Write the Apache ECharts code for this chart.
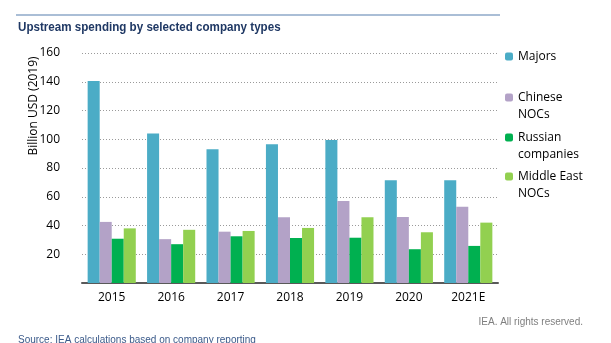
<!DOCTYPE html>
<html><head><meta charset="utf-8">
<script src="https://cdn.jsdelivr.net/npm/echarts@6/dist/echarts.min.js"></script>
<style>html,body{margin:0;padding:0;background:#fff}#c{width:611px;height:343px}</style>
</head><body><div id="c"></div>
<script>
const categories = ['2015','2016','2017','2018','2019','2020','2021E'];
const majors = [140.5, 104, 93, 96.5, 99.5, 71.5, 71.5];
const chineseNOCs = [42.5, 30.5, 35.7, 45.7, 57, 46, 53];
const russian = [30.8, 27, 32.5, 31.3, 31.5, 23.5, 25.8];
const middleEast = [38, 37, 36.2, 38.3, 45.7, 35.3, 42];
const yTicks = [0, 20, 40, 60, 80, 100, 120, 140, 160];
const seriesNames = ['Majors', 'Chinese NOCs', 'Russian companies', 'Middle East NOCs'];
const legendLabels = ['Majors', ' \nChinese\nNOCs', ' \nRussian\ncompanies', ' \nMiddle East\nNOCs'];
const colors = ['#4BACC6', '#B3A2C7', '#00B050', '#92D050'];
const values = [majors, chineseNOCs, russian, middleEast];

const chart = echarts.init(document.getElementById('c'));
const legendTops = [48, 72, 112, 151];
const legends = seriesNames.map((n, i) => ({
  orient: 'vertical', left: 505, top: legendTops[i], padding: 0,
  data: [n], itemWidth: 8, itemHeight: 8, itemGap: 0, selectedMode: false,
  formatter: () => legendLabels[i],
  textStyle: { fontFamily: 'Open Sans', fontSize: 12, color: '#000', lineHeight: 17 }
}));
chart.setOption({
  animation: false,
  legend: legends,
  grid: { left: 82, right: 113, top: 53, bottom: 60 },
  xAxis: {
    type: 'category', data: categories,
    axisTick: { show: false },
    axisLine: { lineStyle: { color: '#595959', width: 2 } },
    axisLabel: { margin: 9, fontFamily: 'Open Sans', fontSize: 12, color: '#000' }
  },
  yAxis: {
    type: 'value', min: 0, max: 160, interval: 20,
    axisLine: { show: false }, axisTick: { show: false },
    axisLabel: { margin: 22, fontFamily: 'Open Sans', fontSize: 12, color: '#000',
      formatter: v => (v === 0 || yTicks.indexOf(v) < 0) ? '' : String(v) },
    splitLine: { lineStyle: { color: '#9a9a9a', type: [1, 2], width: 1 } }
  },
  series: seriesNames.map((n, i) => ({
    name: n, type: 'bar', data: values[i], barGap: '0%', barCategoryGap: '19%',
    itemStyle: { color: colors[i] }
  })),
  graphic: [
    { type: 'line', shape: { x1: 16, y1: 15, x2: 500, y2: 15 }, style: { stroke: '#8EA9C8', lineWidth: 1.5 } },
    { type: 'text', x: 18, y: 27, scaleX: 0.86,
      style: { text: 'Upstream spending by selected company types',
      font: 'bold 13.5px "Liberation Sans", Arial', fill: '#1F3864', verticalAlign: 'middle' } },
    { type: 'text', x: 34, y: 106, rotation: Math.PI / 2,
      style: { text: 'Billion USD (2019)', font: '12px "Open Sans"', fill: '#000', align: 'center', verticalAlign: 'middle' } },
    { type: 'text', right: 28, top: 317, style: { text: 'IEA. All rights reserved.',
      font: '10px "Liberation Sans", Arial', fill: '#7f7f7f' } },
    { type: 'text', left: 18, top: 335, style: { text: 'Source: IEA calculations based on company reporting',
      font: '10px "Liberation Sans", Arial', fill: '#3b5a8a' } }
  ]
});
</script></body></html>
